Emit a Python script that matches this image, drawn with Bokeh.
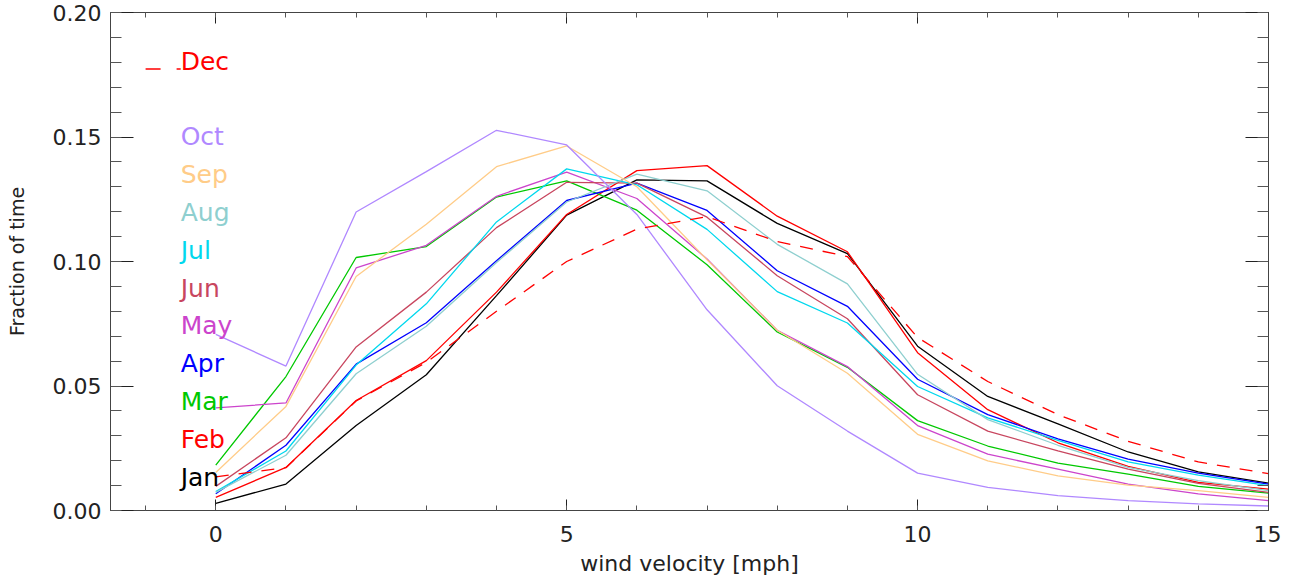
from bokeh.plotting import figure
from bokeh.models import (LinearAxis, SingleIntervalTicker, PrintfTickFormatter,
                          Range1d, ColumnDataSource)
from bokeh.core.properties import value
from bokeh.embed import file_html
from bokeh.resources import INLINE

# ---------------- data ----------------
speed = list(range(16))  # wind velocity [mph]

jan = [0.0029, 0.0106, 0.0341, 0.0545, 0.0863, 0.1186, 0.1328, 0.1324, 0.1153, 0.1032, 0.0660, 0.0458, 0.0348, 0.0235, 0.0155, 0.0110]
feb = [0.0053, 0.0173, 0.0442, 0.0602, 0.0877, 0.1189, 0.1365, 0.1385, 0.1182, 0.1039, 0.0634, 0.0405, 0.0272, 0.0177, 0.0113, 0.0086]
mar = [0.0182, 0.0538, 0.1016, 0.1060, 0.1259, 0.1324, 0.1206, 0.0987, 0.0717, 0.0575, 0.0361, 0.0259, 0.0190, 0.0146, 0.0097, 0.0070]
apr = [0.0067, 0.0262, 0.0588, 0.0754, 0.1003, 0.1245, 0.1315, 0.1205, 0.0963, 0.0820, 0.0527, 0.0385, 0.0288, 0.0206, 0.0150, 0.0106]
may = [0.0412, 0.0432, 0.0974, 0.1065, 0.1262, 0.1359, 0.1253, 0.1010, 0.0724, 0.0578, 0.0341, 0.0226, 0.0166, 0.0106, 0.0067, 0.0040]
jun = [0.0097, 0.0292, 0.0657, 0.0877, 0.1136, 0.1318, 0.1315, 0.1178, 0.0943, 0.0770, 0.0465, 0.0319, 0.0239, 0.0166, 0.0109, 0.0073]
jul = [0.0076, 0.0239, 0.0584, 0.0830, 0.1159, 0.1372, 0.1308, 0.1129, 0.0879, 0.0753, 0.0498, 0.0372, 0.0282, 0.0195, 0.0142, 0.0100]
aug = [0.0073, 0.0222, 0.0549, 0.0740, 0.0996, 0.1239, 0.1351, 0.1284, 0.1069, 0.0910, 0.0547, 0.0365, 0.0262, 0.0173, 0.0120, 0.0080]
sep = [0.0153, 0.0418, 0.0940, 0.1150, 0.1381, 0.1464, 0.1300, 0.1007, 0.0724, 0.0551, 0.0306, 0.0199, 0.0139, 0.0102, 0.0080, 0.0053]
oct_ = [0.0707, 0.0580, 0.1199, 0.1361, 0.1527, 0.1468, 0.1189, 0.0806, 0.0501, 0.0319, 0.0150, 0.0093, 0.0060, 0.0040, 0.0027, 0.0018]
dec = [0.0135, 0.0172, 0.0440, 0.0595, 0.0800, 0.1000, 0.1130, 0.1180, 0.1080, 0.1020, 0.0695, 0.0518, 0.0385, 0.0278, 0.0195, 0.0148]

calendar = ["Jan", "Feb", "Mar", "Apr", "May", "Jun", "Jul", "Aug", "Sep", "Oct", "Nov", "Dec"]
series = {"Jan": jan, "Feb": feb, "Mar": mar, "Apr": apr, "May": may, "Jun": jun,
          "Jul": jul, "Aug": aug, "Sep": sep, "Oct": oct_, "Dec": dec}
colors = {"Jan": "#000000", "Feb": "#ff0000", "Mar": "#00c800", "Apr": "#0000ff",
          "May": "#cc44cc", "Jun": "#c8465f", "Jul": "#00d8ee", "Aug": "#8ecfcf",
          "Sep": "#ffcc88", "Oct": "#b088ff", "Dec": "#ff0000"}
dashes = {"Dec": "13 10"}

x_label = "wind velocity [mph]"
y_label = "Fraction of time"

FONT = "DejaVu Sans"
AXIS_COLOR = "#444444"
TEXT_COLOR = "#222222"

p = figure(width=1281, height=578, output_backend="svg", toolbar_location=None,
           x_range=Range1d(-1.5, 15), y_range=Range1d(0.0, 0.20),
           min_border_left=110, min_border_right=13, min_border_top=12, min_border_bottom=66,
           background_fill_color="white", border_fill_color="white")
p.outline_line_color = None
p.xgrid.visible = False
p.ygrid.visible = False

def style_x(ax, labels=True):
    ax.ticker = SingleIntervalTicker(interval=5, num_minor_ticks=5)
    ax.axis_line_color = AXIS_COLOR
    ax.major_tick_line_color = "#222222"
    ax.minor_tick_line_color = "#555555"
    ax.major_tick_in = 11
    ax.major_tick_out = 0
    ax.minor_tick_in = 5
    ax.minor_tick_out = 0
    if labels:
        ax.major_label_text_font = FONT
        ax.major_label_text_font_size = "22px"
        ax.major_label_text_color = TEXT_COLOR
        ax.major_label_standoff = 15
    else:
        ax.major_label_text_font_size = "1px"
        ax.major_label_text_color = None
        ax.major_label_standoff = 0

def style_y(ax, labels=True):
    ax.ticker = SingleIntervalTicker(interval=0.05, num_minor_ticks=5)
    ax.formatter = PrintfTickFormatter(format="%.2f")
    ax.axis_line_color = AXIS_COLOR
    ax.major_tick_line_color = "#222222"
    ax.minor_tick_line_color = "#555555"
    ax.major_tick_in = 23
    ax.major_tick_out = 0
    ax.minor_tick_in = 11
    ax.minor_tick_out = 0
    if labels:
        ax.major_label_text_font = FONT
        ax.major_label_text_font_size = "22px"
        ax.major_label_text_color = TEXT_COLOR
        ax.major_label_standoff = 9
    else:
        ax.major_label_text_font_size = "1px"
        ax.major_label_text_color = None
        ax.major_label_standoff = 0

style_x(p.xaxis[0])
style_y(p.yaxis[0])

xa = p.xaxis[0]
xa.axis_label = x_label
xa.axis_label_text_font = FONT
xa.axis_label_text_font_size = "22px"
xa.axis_label_text_font_style = "normal"
xa.axis_label_text_color = TEXT_COLOR
xa.axis_label_standoff = 6

ya = p.yaxis[0]
ya.axis_label = y_label
ya.axis_label_text_font = FONT
ya.axis_label_text_font_size = "19px"
ya.axis_label_text_font_style = "normal"
ya.axis_label_text_color = TEXT_COLOR
ya.axis_label_standoff = 22

top_ax = LinearAxis()
style_x(top_ax, labels=False)
p.add_layout(top_ax, "above")
right_ax = LinearAxis()
style_y(right_ax, labels=False)
p.add_layout(right_ax, "right")

# ---------------- lines ----------------
for m in calendar:
    if m not in series:
        continue
    src = ColumnDataSource(dict(x=speed, y=series[m]))
    p.line("x", "y", source=src, line_color=colors[m], line_width=1.3,
           line_dash=dashes.get(m, "solid"))

# ---------------- legend (month names) ----------------
leg_x = -0.5
leg_y0 = 0.0133
leg_dy = 0.0152
lx, ly, lt, lc = [], [], [], []
for m in calendar:
    if m not in series:
        continue
    i = calendar.index(m)
    lx.append(leg_x)
    ly.append(leg_y0 + leg_dy * i)
    lt.append(m)
    lc.append(colors[m])
p.text(x="x", y="y", text="t", text_color="c",
       source=ColumnDataSource(dict(x=lx, y=ly, t=lt, c=lc)),
       text_font=value(FONT), text_font_size="25px",
       text_align="left", text_baseline="middle")

# dashed line sample in front of the Dec entry
for m, d in dashes.items():
    i = calendar.index(m)
    yy = leg_y0 + leg_dy * i - 0.0032
    p.line([leg_x - 0.5, leg_x], [yy, yy], line_color=colors[m], line_width=1.3,
           line_dash="15 16")

open("out.html", "w").write(file_html(p, INLINE))
